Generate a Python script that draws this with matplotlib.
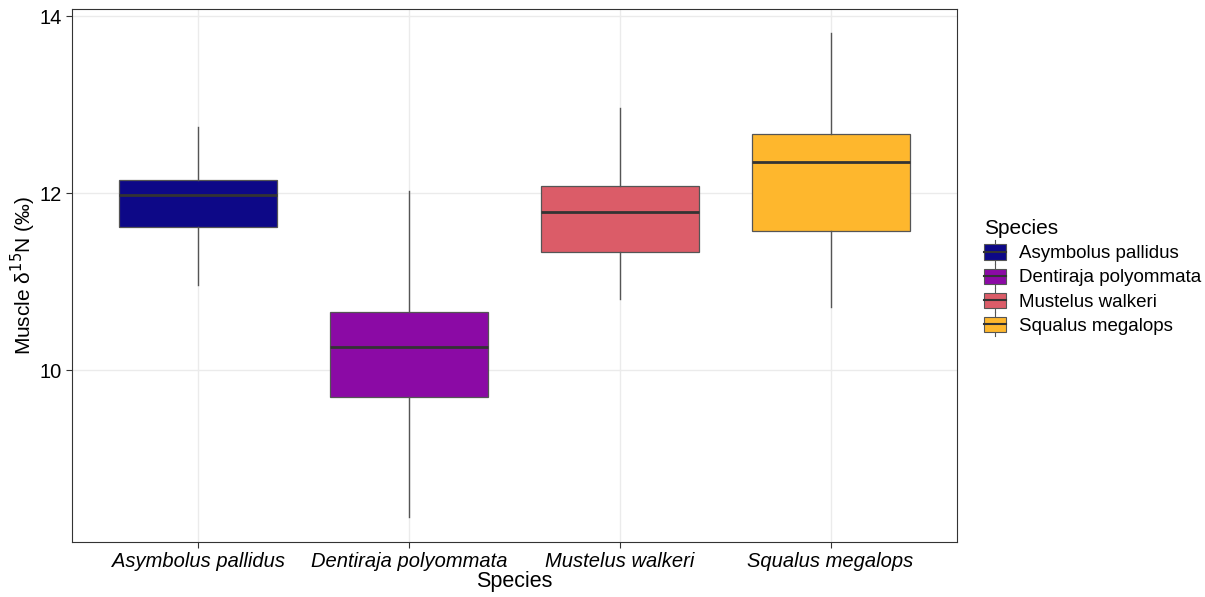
import matplotlib.pyplot as plt
from matplotlib.patches import Rectangle
from matplotlib.lines import Line2D
from matplotlib.legend_handler import HandlerBase

plt.rcParams['font.family'] = ['Liberation Sans', 'DejaVu Sans']

# values
species = ['Asymbolus pallidus', 'Dentiraja polyommata', 'Mustelus walkeri', 'Squalus megalops']
colors = ['#0D0887', '#8B0AA5', '#DB5C68', '#FEB72D']
whisker_low = [10.96, 8.34, 10.81, 10.71]
q1 = [11.62, 9.70, 11.33, 11.57]
median = [11.98, 10.26, 11.79, 12.35]
q3 = [12.15, 10.66, 12.08, 12.67]
whisker_high = [12.75, 12.03, 12.96, 13.81]

stats = []
for i, s in enumerate(species):
    stats.append({'label': s, 'whislo': whisker_low[i], 'q1': q1[i], 'med': median[i],
                  'q3': q3[i], 'whishi': whisker_high[i], 'fliers': []})

fig = plt.figure(figsize=(12.05, 5.97), dpi=100)
ax = fig.add_axes([72 / 1205, 1 - 542 / 597, 885 / 1205, 533 / 597])

bp = ax.bxp(stats, positions=range(1, 5), widths=0.75, patch_artist=True,
            showcaps=False,
            boxprops=dict(edgecolor='#555555', linewidth=0.9),
            medianprops=dict(color='#333333', linewidth=2),
            whiskerprops=dict(color='#555555', linewidth=1))
for patch, c in zip(bp['boxes'], colors):
    patch.set_facecolor(c)

ax.set_xlim(0.4, 4.6)
ax.set_ylim(8.06, 14.08)
ax.set_yticks([10, 12, 14])
ax.set_xticks(range(1, 5))
ax.set_xticklabels(species, fontstyle='italic')
ax.tick_params(axis='both', labelsize=14.5, colors='#333333', labelcolor='black', length=4)
ax.tick_params(axis='x', pad=3)
ax.grid(True, color='#EBEBEB', linewidth=1)
ax.set_axisbelow(True)
for sp in ax.spines.values():
    sp.set_color('#333333')
ax.set_xlabel('Species', fontsize=15.5, labelpad=0)
ax.set_ylabel('Muscle δ$^{15}$N (‰)', fontsize=15, labelpad=1)


class BoxHandler(HandlerBase):
    def create_artists(self, legend, orig_handle, xdescent, ydescent, width, height, fontsize, trans):
        w = width
        x0 = -xdescent
        y0 = -ydescent
        r = Rectangle((x0, y0 + height * 0.05), w, height * 0.9, facecolor=orig_handle.get_facecolor(),
                      edgecolor='#555555', linewidth=0.8, transform=trans)
        m = Line2D([x0, x0 + w], [y0 + height / 2] * 2, color='#333333', linewidth=1.5, transform=trans)
        wl = Line2D([x0 + w / 2] * 2, [y0 - height * 0.2, y0 + height * 1.2], color='#555555',
                    linewidth=0.8, transform=trans)
        return [wl, r, m]


handles = [Rectangle((0, 0), 1, 1, facecolor=c) for c in colors]
leg = fig.legend(handles, species, handler_map={Rectangle: BoxHandler()},
                 loc='center left', bbox_to_anchor=(984 / 1205, 1 - 277 / 597),
                 title='Species', fontsize=13.5, title_fontsize=15, frameon=False,
                 borderpad=0, borderaxespad=0,
                 handlelength=1.15, handleheight=1.0, handletextpad=0.7, labelspacing=0.28,
                 alignment='left')

fig.savefig('out.png', dpi=100)
